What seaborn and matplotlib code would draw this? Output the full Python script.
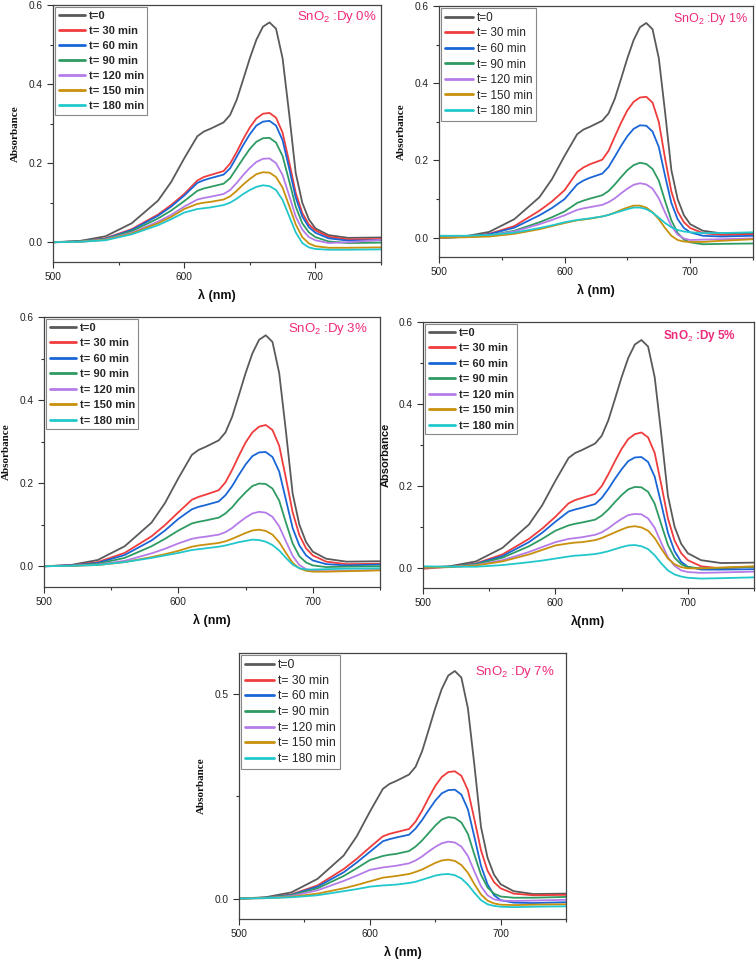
import numpy as np
import pandas as pd
import matplotlib
matplotlib.use("Agg")
import matplotlib.pyplot as plt
import seaborn as sns
from matplotlib.ticker import MultipleLocator, FormatStrFormatter

sns.set_theme(style="ticks")
plt.rcParams['font.family'] = ['Liberation Sans', 'DejaVu Sans']
plt.rcParams['mathtext.fontset'] = 'custom'
plt.rcParams['mathtext.rm'] = 'Liberation Sans'
plt.rcParams['mathtext.it'] = 'Liberation Sans'
plt.rcParams['mathtext.bf'] = 'Liberation Sans:bold'

# ---------------- data ----------------
wavelength = [500, 520, 540, 560, 580, 590, 600, 610, 615, 620, 630, 635, 640, 645,
              650, 655, 660, 665, 670, 675, 680, 685, 690, 695, 700, 710, 725, 750]

series_labels = ["t=0", "t= 30 min", "t= 60 min", "t= 90 min",
                 "t= 120 min", "t= 150 min", "t= 180 min"]
series_colors = ["#5a5a5a", "#f03c3c", "#1a66d6", "#2e9b62",
                 "#b57be8", "#c8900c", "#22c7cc"]

t0_curve = [0.000, 0.003, 0.015, 0.048, 0.105, 0.152, 0.212, 0.268, 0.280, 0.287, 0.303, 0.322, 0.360, 0.412,
            0.465, 0.512, 0.545, 0.556, 0.540, 0.465, 0.325, 0.175, 0.100, 0.058, 0.035, 0.018, 0.011, 0.012]

dy0_abs = [
    t0_curve,
    [0.000, 0.002, 0.010, 0.033, 0.070, 0.094, 0.122, 0.156, 0.165, 0.170, 0.180, 0.199, 0.228, 0.261,
     0.290, 0.313, 0.325, 0.327, 0.315, 0.277, 0.203, 0.125, 0.074, 0.045, 0.030, 0.014, 0.007, 0.008],
    [0.000, 0.002, 0.009, 0.031, 0.067, 0.090, 0.118, 0.150, 0.157, 0.162, 0.171, 0.187, 0.216, 0.246,
     0.273, 0.295, 0.305, 0.307, 0.295, 0.258, 0.187, 0.113, 0.065, 0.038, 0.024, 0.010, 0.004, 0.005],
    [0.000, 0.002, 0.008, 0.028, 0.060, 0.080, 0.104, 0.130, 0.136, 0.140, 0.148, 0.162, 0.187, 0.212,
     0.236, 0.254, 0.263, 0.264, 0.252, 0.218, 0.155, 0.090, 0.048, 0.025, 0.013, 0.002, -0.002, -0.001],
    [0.000, 0.001, 0.007, 0.024, 0.052, 0.069, 0.090, 0.108, 0.112, 0.115, 0.122, 0.132, 0.150, 0.170,
     0.188, 0.203, 0.211, 0.212, 0.200, 0.170, 0.118, 0.065, 0.032, 0.013, 0.005, -0.002, 0.000, 0.006],
    [0.000, 0.001, 0.006, 0.022, 0.048, 0.064, 0.084, 0.097, 0.100, 0.102, 0.108, 0.116, 0.130, 0.146,
     0.160, 0.172, 0.177, 0.176, 0.165, 0.138, 0.092, 0.045, 0.013, -0.003, -0.010, -0.014, -0.014, -0.013],
    [0.000, 0.001, 0.005, 0.020, 0.043, 0.058, 0.075, 0.084, 0.086, 0.088, 0.094, 0.100, 0.110, 0.122,
     0.132, 0.140, 0.144, 0.142, 0.132, 0.107, 0.066, 0.025, -0.002, -0.013, -0.017, -0.019, -0.019, -0.018],
]

dy1_abs = [
    t0_curve,
    [0.000, 0.002, 0.010, 0.030, 0.070, 0.094, 0.123, 0.170, 0.182, 0.190, 0.202, 0.225, 0.262, 0.298,
     0.330, 0.352, 0.363, 0.365, 0.350, 0.300, 0.205, 0.120, 0.068, 0.040, 0.025, 0.012, 0.007, 0.008],
    [0.000, 0.002, 0.009, 0.026, 0.058, 0.077, 0.100, 0.138, 0.148, 0.155, 0.166, 0.183, 0.210, 0.238,
     0.263, 0.282, 0.291, 0.290, 0.275, 0.235, 0.160, 0.090, 0.048, 0.025, 0.014, 0.005, 0.003, 0.005],
    [0.000, 0.002, 0.006, 0.018, 0.040, 0.053, 0.068, 0.090, 0.096, 0.101, 0.110, 0.121, 0.138, 0.157,
     0.175, 0.188, 0.194, 0.191, 0.178, 0.148, 0.095, 0.045, 0.012, -0.005, -0.012, -0.017, -0.016, -0.015],
    [0.000, 0.002, 0.006, 0.016, 0.035, 0.046, 0.058, 0.072, 0.076, 0.079, 0.085, 0.092, 0.102, 0.115,
     0.127, 0.137, 0.141, 0.138, 0.127, 0.102, 0.065, 0.030, 0.008, -0.002, -0.006, -0.005, -0.004, -0.002],
    [0.000, 0.001, 0.003, 0.010, 0.022, 0.030, 0.038, 0.045, 0.047, 0.049, 0.055, 0.059, 0.065, 0.072,
     0.078, 0.083, 0.083, 0.078, 0.066, 0.048, 0.025, 0.005, -0.006, -0.010, -0.011, -0.011, -0.008, -0.004],
    [0.005, 0.005, 0.007, 0.013, 0.025, 0.032, 0.040, 0.046, 0.048, 0.050, 0.055, 0.059, 0.064, 0.069,
     0.074, 0.078, 0.078, 0.074, 0.065, 0.052, 0.038, 0.027, 0.020, 0.016, 0.014, 0.012, 0.012, 0.014],
]

dy3_abs = [
    t0_curve,
    [0.000, 0.002, 0.010, 0.032, 0.072, 0.099, 0.130, 0.160, 0.167, 0.172, 0.183, 0.202, 0.232, 0.266,
     0.298, 0.322, 0.336, 0.340, 0.328, 0.290, 0.212, 0.130, 0.075, 0.043, 0.026, 0.011, 0.005, 0.006],
    [0.000, 0.002, 0.008, 0.027, 0.062, 0.086, 0.114, 0.137, 0.143, 0.147, 0.156, 0.171, 0.193, 0.220,
     0.245, 0.265, 0.274, 0.275, 0.263, 0.228, 0.160, 0.092, 0.050, 0.026, 0.014, 0.005, 0.002, 0.004],
    [0.000, 0.001, 0.006, 0.020, 0.048, 0.066, 0.086, 0.103, 0.107, 0.110, 0.117, 0.127, 0.142, 0.161,
     0.178, 0.193, 0.199, 0.198, 0.187, 0.158, 0.105, 0.055, 0.024, 0.009, 0.002, -0.002, -0.001, 0.000],
    [0.000, 0.001, 0.004, 0.013, 0.031, 0.042, 0.055, 0.066, 0.069, 0.071, 0.076, 0.082, 0.092, 0.105,
     0.117, 0.127, 0.131, 0.129, 0.119, 0.096, 0.060, 0.025, 0.003, -0.007, -0.011, -0.012, -0.011, -0.009],
    [0.000, 0.001, 0.003, 0.010, 0.022, 0.029, 0.037, 0.047, 0.050, 0.052, 0.056, 0.060, 0.066, 0.073,
     0.080, 0.086, 0.088, 0.085, 0.076, 0.058, 0.032, 0.008, -0.005, -0.011, -0.013, -0.013, -0.012, -0.010],
    [0.000, 0.001, 0.003, 0.010, 0.020, 0.026, 0.032, 0.039, 0.041, 0.043, 0.047, 0.050, 0.054, 0.058,
     0.061, 0.064, 0.063, 0.059, 0.051, 0.038, 0.020, 0.004, -0.005, -0.008, -0.008, -0.007, -0.006, -0.005],
]

dy5_abs = [
    t0_curve,
    [-0.003, 0.002, 0.010, 0.032, 0.070, 0.095, 0.124, 0.157, 0.165, 0.170, 0.180, 0.199, 0.228, 0.260,
     0.290, 0.314, 0.326, 0.330, 0.318, 0.280, 0.202, 0.120, 0.066, 0.035, 0.018, 0.003, -0.002, 0.002],
    [0.000, 0.002, 0.009, 0.028, 0.062, 0.085, 0.112, 0.137, 0.142, 0.146, 0.155, 0.170, 0.192, 0.217,
     0.240, 0.260, 0.269, 0.270, 0.258, 0.222, 0.155, 0.085, 0.040, 0.014, 0.002, -0.005, -0.005, -0.004],
    [0.000, 0.002, 0.008, 0.024, 0.052, 0.070, 0.090, 0.103, 0.107, 0.110, 0.117, 0.127, 0.142, 0.160,
     0.177, 0.191, 0.197, 0.196, 0.185, 0.156, 0.105, 0.055, 0.024, 0.008, 0.001, -0.002, -0.001, 0.002],
    [0.000, 0.001, 0.006, 0.018, 0.038, 0.050, 0.062, 0.070, 0.072, 0.074, 0.080, 0.086, 0.096, 0.108,
     0.119, 0.128, 0.131, 0.130, 0.120, 0.097, 0.060, 0.025, 0.004, -0.007, -0.011, -0.013, -0.012, -0.010],
    [0.000, 0.001, 0.005, 0.015, 0.032, 0.043, 0.054, 0.059, 0.061, 0.062, 0.067, 0.072, 0.079, 0.086,
     0.093, 0.099, 0.101, 0.098, 0.090, 0.072, 0.046, 0.022, 0.008, 0.001, -0.002, -0.002, 0.000, 0.003],
    [0.003, 0.002, 0.002, 0.006, 0.013, 0.017, 0.022, 0.027, 0.029, 0.030, 0.033, 0.036, 0.040, 0.045,
     0.050, 0.054, 0.055, 0.052, 0.045, 0.030, 0.010, -0.007, -0.017, -0.022, -0.025, -0.027, -0.026, -0.024],
]

dy7_abs = [
    t0_curve,
    [0.000, 0.002, 0.010, 0.032, 0.072, 0.097, 0.125, 0.152, 0.158, 0.162, 0.170, 0.188, 0.215, 0.246,
     0.275, 0.297, 0.309, 0.311, 0.300, 0.265, 0.193, 0.118, 0.068, 0.040, 0.025, 0.012, 0.008, 0.009],
    [0.000, 0.002, 0.009, 0.029, 0.064, 0.088, 0.114, 0.140, 0.145, 0.149, 0.156, 0.171, 0.192, 0.216,
     0.239, 0.257, 0.265, 0.266, 0.254, 0.218, 0.150, 0.080, 0.035, 0.008, -0.004, -0.010, -0.011, -0.009],
    [0.000, 0.002, 0.008, 0.025, 0.055, 0.074, 0.094, 0.104, 0.107, 0.109, 0.116, 0.127, 0.142, 0.160,
     0.178, 0.193, 0.199, 0.197, 0.186, 0.158, 0.107, 0.058, 0.027, 0.012, 0.005, 0.002, 0.002, 0.004],
    [0.000, 0.001, 0.006, 0.020, 0.043, 0.056, 0.070, 0.076, 0.078, 0.080, 0.086, 0.093, 0.103, 0.115,
     0.126, 0.135, 0.139, 0.137, 0.127, 0.104, 0.066, 0.030, 0.008, -0.002, -0.005, -0.006, -0.005, -0.003],
    [0.000, 0.001, 0.004, 0.012, 0.025, 0.033, 0.042, 0.051, 0.053, 0.055, 0.060, 0.065, 0.071, 0.079,
     0.087, 0.093, 0.095, 0.092, 0.082, 0.063, 0.035, 0.010, -0.005, -0.012, -0.015, -0.016, -0.015, -0.014],
    [0.000, 0.001, 0.003, 0.008, 0.018, 0.023, 0.029, 0.032, 0.033, 0.034, 0.038, 0.041, 0.046, 0.051,
     0.056, 0.059, 0.060, 0.057, 0.049, 0.034, 0.014, -0.004, -0.014, -0.018, -0.020, -0.021, -0.020, -0.019],
]

panel_titles = ["SnO$_2$ :Dy 0%", "SnO$_2$ :Dy 1%", "SnO$_2$ :Dy 3%",
                "SnO$_2$ :Dy 5%", "SnO$_2$ :Dy 7%"]
x_labels = ["λ (nm)", "λ (nm)", "λ (nm)", "λ(nm)", "λ (nm)"]

# ---------------- layout ----------------
W, H = 756, 965
fig = plt.figure(figsize=(W / 100, H / 100), dpi=100)

def px_axes(l, t, r, b):
    return fig.add_axes([l / W, 1 - b / H, (r - l) / W, (b - t) / H])

panels = [
    dict(data=dy0_abs, box=(53, 5, 381, 262), leg_bold=True, leg_fs=8.0, leg_ls=0.46, ylab_serif=True,
         title_xy=(0.988, 0.953), title_bold=False, title_fs=9.5, ymajor=0.2, yminor=0.1),
    dict(data=dy1_abs, box=(439, 6, 753, 257), leg_bold=False, leg_fs=8.5, leg_ls=0.3, ylab_serif=True,
         title_xy=(0.984, 0.95), title_bold=False, title_fs=9.0, ymajor=0.2, yminor=0.1),
    dict(data=dy3_abs, box=(44, 317, 380, 587), leg_bold=True, leg_fs=8.0, leg_ls=0.5, ylab_serif=True,
         title_xy=(0.964, 0.956), title_bold=False, title_fs=9.5, ymajor=0.2, yminor=0.1),
    dict(data=dy5_abs, box=(423, 322, 754, 588), leg_bold=True, leg_fs=8.0, leg_ls=0.5, ylab_serif=False,
         title_xy=(0.946, 0.947), title_bold=True, title_fs=8.5, ymajor=0.2, yminor=0.1),
    dict(data=dy7_abs, box=(239, 653, 566, 919), leg_bold=False, leg_fs=8.8, leg_ls=0.3, ylab_serif=True,
         title_xy=(0.966, 0.93), title_bold=False, title_fs=9.5, ymajor=0.5, yminor=0.25),
]

for i, p in enumerate(panels):
    ax = px_axes(*p["box"])
    for lab, col, vals in zip(series_labels, series_colors, p["data"]):
        sns.lineplot(x=wavelength, y=vals, color=col, label=lab, ax=ax,
                     linewidth=1.3, estimator=None, sort=False)
    ax.set_xlim(500, 750)
    ax.set_ylim(-0.05, 0.6)
    ax.xaxis.set_major_locator(MultipleLocator(100))
    ax.xaxis.set_minor_locator(MultipleLocator(50))
    ax.yaxis.set_major_locator(MultipleLocator(p["ymajor"]))
    ax.yaxis.set_minor_locator(MultipleLocator(p["yminor"]))
    ax.yaxis.set_major_formatter(FormatStrFormatter('%.1f'))
    ax.tick_params(which='major', direction='out', length=4, width=0.8,
                   labelsize=7.3, colors='#333333', labelcolor='#222222')
    ax.tick_params(which='minor', direction='out', length=2, width=0.8, colors='#333333')
    for s in ax.spines.values():
        s.set_visible(True)
        s.set_color('#444444')
        s.set_linewidth(0.9)
    ax.set_xlabel(x_labels[i], fontsize=9, fontweight='bold', labelpad=5, color='#111111')
    if p["ylab_serif"]:
        ax.set_ylabel("Absorbance", fontsize=8, fontweight='bold',
                      family=['Liberation Serif', 'DejaVu Serif'], labelpad=6, color='#111111')
    else:
        ax.set_ylabel("Absorbance", fontsize=8, fontweight='bold', labelpad=6, color='#111111')
    leg = ax.legend(loc='upper left', frameon=True, fancybox=False, framealpha=1,
                    edgecolor='#888888',
                    prop={'weight': 'bold' if p["leg_bold"] else 'normal', 'size': p["leg_fs"]},
                    handlelength=2.4, handletextpad=0.3, labelspacing=p["leg_ls"],
                    borderpad=0.3, borderaxespad=0.2)
    leg.get_frame().set_linewidth(0.8)
    for h in leg.get_lines():
        h.set_linewidth(2.0)
    ax.text(p["title_xy"][0], p["title_xy"][1], panel_titles[i], transform=ax.transAxes,
            ha='right', va='center', fontsize=p["title_fs"], color='#ee2a7b',
            fontweight='bold' if p["title_bold"] else 'normal')

fig.savefig("out.png", dpi=100)
